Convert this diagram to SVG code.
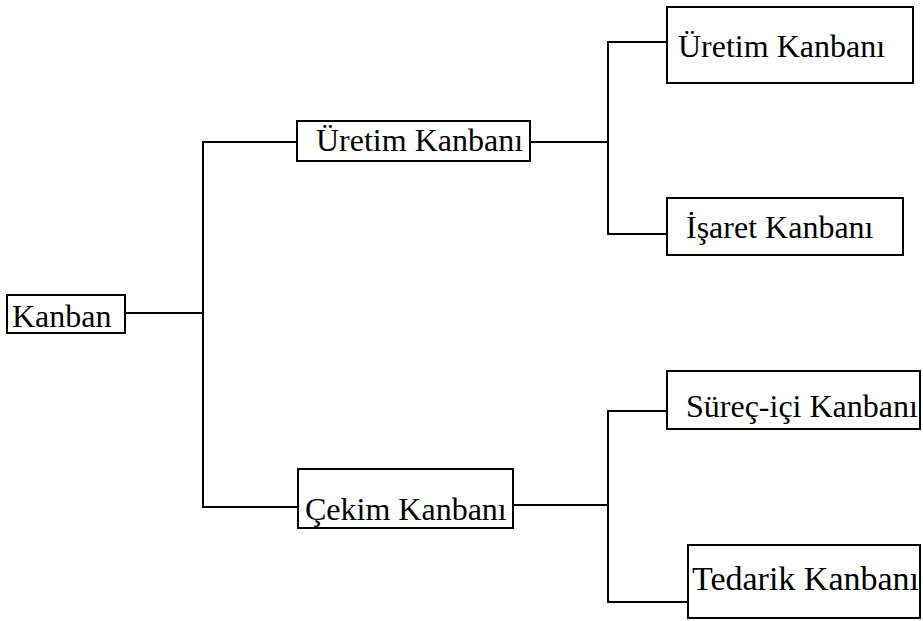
<svg xmlns="http://www.w3.org/2000/svg" width="923" height="621" viewBox="0 0 923 621">
  <style>
    .box { fill: #ffffff; stroke: #000000; stroke-width: 2; }
    .lbl { font-family: "Liberation Serif", "Times New Roman", serif; font-size: 32px; fill: #000000; }
    .wire { fill: none; stroke: #000000; stroke-width: 2; }
  </style>
  <rect width="923" height="621" fill="#ffffff"/>

  <!-- connectors -->
  <g id="connectors">
    <path class="wire" d="M125,313 H203"/>
    <path class="wire" d="M297,142 H203 V507 H298"/>
    <path class="wire" d="M530,142 H608"/>
    <path class="wire" d="M667,42 H608 V234 H667"/>
    <path class="wire" d="M513,505 H608"/>
    <path class="wire" d="M667,411 H608 V602 H688"/>
  </g>

  <g id="kanban">
    <rect class="box" x="7" y="295" width="118" height="38"/>
    <text class="lbl" x="12" y="327">Kanban</text>
  </g>

  <g id="uretim">
    <rect class="box" x="297" y="121" width="233" height="40"/>
    <text class="lbl" x="316" y="151">Üretim Kanbanı</text>
  </g>

  <g id="cekim">
    <rect class="box" x="298" y="469" width="215" height="59"/>
    <text class="lbl" x="305" y="520">Çekim Kanbanı</text>
  </g>

  <g id="uretim-kanbani">
    <rect class="box" x="667" y="7" width="246" height="76"/>
    <text class="lbl" x="678" y="57">Üretim Kanbanı</text>
  </g>

  <g id="isaret-kanbani">
    <rect class="box" x="667" y="198" width="236" height="57"/>
    <text class="lbl" x="686" y="238">İşaret Kanbanı</text>
  </g>

  <g id="surec-ici-kanbani">
    <rect class="box" x="667" y="371" width="253" height="58"/>
    <text class="lbl" x="686" y="417">Süreç-içi Kanbanı</text>
  </g>

  <g id="tedarik-kanbani">
    <rect class="box" x="688" y="545" width="232" height="73"/>
    <text class="lbl" x="692" y="590" style="font-size:34px">Tedarik Kanbanı</text>
  </g>
</svg>
